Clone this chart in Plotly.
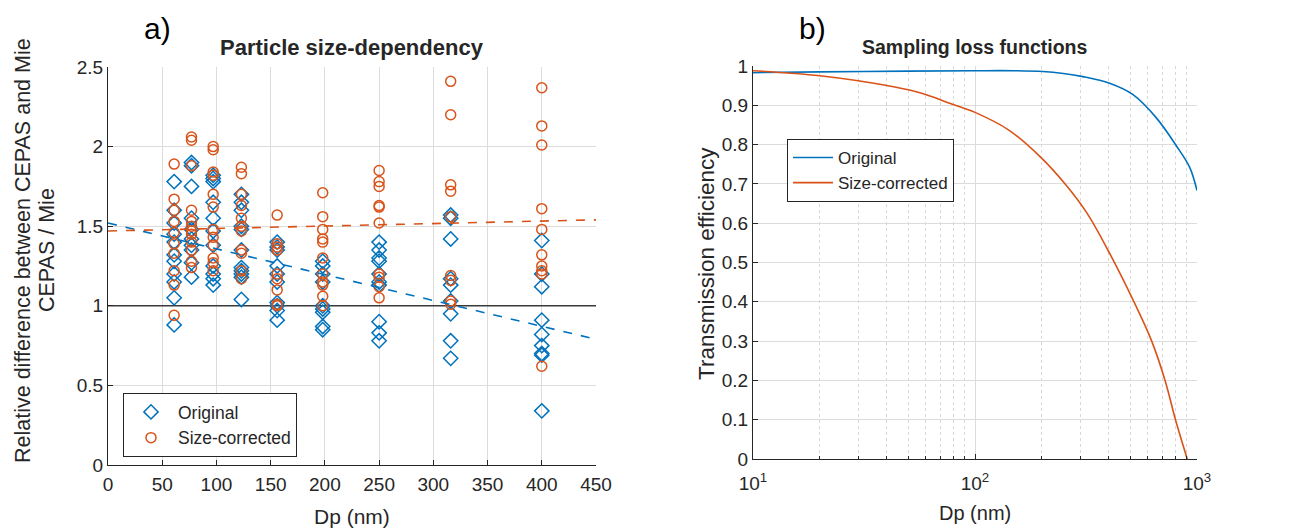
import plotly.graph_objects as go

# ---------------- data: panel a ----------------
dp_groups = [61, 77, 97, 123, 156, 198, 250, 316, 400]

original_vals = [
    [1.78, 1.60, 1.52, 1.45, 1.40, 1.32, 1.28, 1.20, 1.15, 1.05, 0.88],
    [1.90, 1.88, 1.75, 1.55, 1.48, 1.42, 1.38, 1.35, 1.27, 1.18],
    [1.82, 1.80, 1.78, 1.65, 1.55, 1.47, 1.38, 1.25, 1.20, 1.17, 1.13],
    [1.70, 1.65, 1.60, 1.50, 1.48, 1.35, 1.24, 1.22, 1.20, 1.18, 1.04],
    [1.40, 1.37, 1.35, 1.25, 1.20, 1.15, 1.02, 1.00, 0.97, 0.91],
    [1.28, 1.25, 1.20, 1.15, 1.00, 0.98, 0.96, 0.87, 0.85],
    [1.40, 1.35, 1.30, 1.28, 1.20, 1.15, 1.13, 0.90, 0.83, 0.78],
    [1.57, 1.55, 1.42, 1.17, 1.13, 1.03, 0.95, 0.78, 0.67],
    [1.41, 1.20, 1.12, 0.91, 0.82, 0.75, 0.70, 0.69, 0.34],
]

corrected_vals = [
    [1.89, 1.67, 1.60, 1.53, 1.46, 1.39, 1.33, 1.22, 1.13, 0.94],
    [2.06, 2.04, 1.88, 1.60, 1.53, 1.50, 1.47, 1.45, 1.40, 1.35, 1.28, 1.24],
    [2.00, 1.98, 1.84, 1.82, 1.70, 1.62, 1.48, 1.43, 1.38, 1.30, 1.27, 1.22],
    [1.87, 1.83, 1.70, 1.63, 1.55, 1.50, 1.47, 1.35, 1.33, 1.22, 1.17],
    [1.57, 1.39, 1.37, 1.35, 1.20, 1.17, 1.10, 1.01, 1.00],
    [1.71, 1.56, 1.48, 1.42, 1.40, 1.30, 1.20, 1.15, 1.13, 1.06, 1.00],
    [1.85, 1.78, 1.75, 1.63, 1.62, 1.52, 1.20, 1.18, 1.12, 1.05],
    [2.41, 2.20, 1.76, 1.72, 1.56, 1.19, 1.16, 1.03, 1.01],
    [2.37, 2.13, 2.01, 1.61, 1.48, 1.32, 1.25, 1.22, 1.20, 0.62],
]

trend_x = [0, 450]
trend_original = [1.52, 0.79]
trend_corrected = [1.47, 1.54]
ref_level = 1.0

# ---------------- data: panel b ----------------
dp_orig_curve = [10, 20, 50, 100, 150, 202, 250, 306, 404, 515, 656, 807, 927, 1000]
eff_orig_curve = [0.983, 0.985, 0.987, 0.988, 0.988, 0.986, 0.981, 0.973, 0.956, 0.927,
                  0.868, 0.797, 0.742, 0.683]

dp_corr_curve = [10, 20, 43, 58, 78, 100, 142, 200, 257, 320, 400, 520, 625, 718, 800, 904]
eff_corr_curve = [0.988, 0.975, 0.947, 0.930, 0.904, 0.882, 0.837, 0.765, 0.697, 0.625, 0.528,
                  0.400, 0.300, 0.200, 0.100, 0.0]

BLUE = "#0072BD"
ORANGE = "#D95319"
TXT = "#262626"
GRID = "#dcdcdc"
FONT = "Liberation Sans, Arial, sans-serif"

W, H = 1300, 529


def px(x):
    return x / W


def py(y):
    return 1 - y / H


fig = go.Figure()

xo, yo, xc, yc = [], [], [], []
for d, vals in zip(dp_groups, original_vals):
    xo += [d] * len(vals)
    yo += vals
for d, vals in zip(dp_groups, corrected_vals):
    xc += [d] * len(vals)
    yc += vals

fig.add_trace(go.Scatter(
    x=trend_x, y=[ref_level, ref_level], mode="lines",
    line=dict(color="#3a3a3a", width=1.6), showlegend=False,
    xaxis="x", yaxis="y", hoverinfo="skip"))

fig.add_trace(go.Scatter(
    x=xo, y=yo, mode="markers", name="Original",
    marker=dict(symbol="diamond-open", size=11, color=BLUE, line=dict(width=1.5, color=BLUE)),
    xaxis="x", yaxis="y", legend="legend"))
fig.add_trace(go.Scatter(
    x=xc, y=yc, mode="markers", name="Size-corrected",
    marker=dict(symbol="circle-open", size=10, color=ORANGE, line=dict(width=1.5, color=ORANGE)),
    xaxis="x", yaxis="y", legend="legend"))

fig.add_trace(go.Scatter(
    x=trend_x, y=trend_original, mode="lines",
    line=dict(color=BLUE, width=1.6, dash="dash"), showlegend=False,
    xaxis="x", yaxis="y"))
fig.add_trace(go.Scatter(
    x=trend_x, y=trend_corrected, mode="lines",
    line=dict(color=ORANGE, width=1.6, dash="dash"), showlegend=False,
    xaxis="x", yaxis="y"))

fig.add_trace(go.Scatter(
    x=dp_orig_curve, y=eff_orig_curve, mode="lines", name="Original",
    line=dict(color=BLUE, width=1.6, shape="spline", smoothing=1.0),
    xaxis="x2", yaxis="y2", legend="legend2"))
fig.add_trace(go.Scatter(
    x=dp_corr_curve, y=eff_corr_curve, mode="lines", name="Size-corrected",
    line=dict(color=ORANGE, width=1.6, shape="spline", smoothing=1.0),
    xaxis="x2", yaxis="y2", legend="legend2"))

axis_common = dict(
    showline=True, linecolor=TXT, linewidth=1, ticks="inside", ticklen=5,
    tickcolor=TXT, tickfont=dict(family=FONT, size=19, color=TXT),
    showgrid=True, gridcolor=GRID, gridwidth=1, zeroline=False, mirror=False,
    automargin=False,
)

minor_vals = [20, 30, 40, 50, 60, 70, 80, 90, 200, 300, 400, 500, 600, 700, 800, 900]

fig.update_layout(
    width=W, height=H,
    margin=dict(l=0, r=0, t=0, b=0, autoexpand=False),
    paper_bgcolor="white", plot_bgcolor="white",
    font=dict(family=FONT, color=TXT),
    xaxis=dict(domain=[px(108), px(596)], range=[0, 450], dtick=50, tick0=0,
               anchor="y", ticklabelstandoff=2, **axis_common),
    yaxis=dict(domain=[py(465), py(67)], range=[0, 2.5], dtick=0.5, tick0=0,
               anchor="x", **axis_common),
    xaxis2=dict(domain=[px(753), px(1197)], type="log", range=[1, 3],
                tickvals=[10, 100, 1000],
                ticktext=["10<sup>1</sup>", "10<sup>2</sup>", "10<sup>3</sup>"],
                minor=dict(tickvals=minor_vals, showgrid=True, gridcolor="#d8d8d8",
                           griddash="dot", gridwidth=1, ticks="inside", ticklen=3,
                           tickcolor=TXT),
                anchor="y2", ticklabelstandoff=7, **axis_common),
    yaxis2=dict(domain=[py(459), py(66)], range=[0, 1], dtick=0.1, tick0=0,
                anchor="x2", **axis_common),
    legend=dict(x=px(123), y=py(393), xanchor="left", yanchor="top",
                bgcolor="white", bordercolor=TXT, borderwidth=1, itemwidth=44,
                font=dict(family=FONT, size=17.5, color=TXT), tracegroupgap=0),
    legend2=dict(x=px(787), y=py(139), xanchor="left", yanchor="top",
                 bgcolor="white", bordercolor=TXT, borderwidth=1, itemwidth=40,
                 font=dict(family=FONT, size=17, color=TXT), tracegroupgap=0),
    showlegend=True,
)

ann = [
    dict(text="<b>Particle size-dependency</b>", x=352, y=48, size=22, angle=0),
    dict(text="<b>Sampling loss functions</b>", x=975, y=47, size=19.5, angle=0),
    dict(text="a)", x=157, y=29, size=30, angle=0),
    dict(text="b)", x=812, y=29, size=30, angle=0),
    dict(text="Dp (nm)", x=352, y=516, size=21, angle=0),
    dict(text="Dp (nm)", x=975, y=513, size=20, angle=0),
    dict(text="Relative difference between CEPAS and Mie", x=23, y=251, size=21.5, angle=-90),
    dict(text="CEPAS / Mie", x=47, y=250, size=21.5, angle=-90),
    dict(text="Transmission efficiency", x=706, y=264, size=22.5, angle=-90),
]
for a in ann:
    fig.add_annotation(text=a["text"], x=px(a["x"]), y=py(a["y"]), xref="paper", yref="paper",
                       showarrow=False, xanchor="center", yanchor="middle", textangle=a["angle"],
                       font=dict(family=FONT, size=a["size"], color=TXT if a["size"] < 25 else "black"))

fig.write_html("out.html")
